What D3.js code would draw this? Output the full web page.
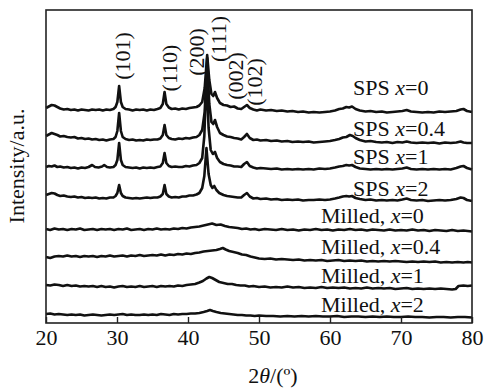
<!DOCTYPE html>
<html>
<head>
<meta charset="utf-8">
<script src="https://cdn.jsdelivr.net/npm/d3@7"></script>
<style>
  html, body { margin: 0; padding: 0; background: #fff; }
  svg text { font-family: "Liberation Serif", "Times New Roman", serif; fill: #111; }
</style>
</head>
<body>
<div id="chart"></div>
<script>
/* XRD patterns, intensity given in a.u. above each trace's own baseline */
const sampleNames = ['SPS x=0', 'SPS x=0.4', 'SPS x=1', 'SPS x=2',
  'Milled, x=0', 'Milled, x=0.4', 'Milled, x=1', 'Milled, x=2'];
const labelPrefix = ['SPS ', 'SPS ', 'SPS ', 'SPS ', 'Milled, ', 'Milled, ', 'Milled, ', 'Milled, '];
const labelValue = ['0', '0.4', '1', '2', '0', '0.4', '1', '2'];
const offsets = [213, 183, 155, 125, 93, 65, 36, 7];

const peakLabels = ['(101)', '(110)', '(200)', '(111)', '(002)', '(102)'];
const peakLabelPos = [30.8, 37.3, 41.2, 44.2, 46.6, 49.4];
const peakLabelLevel = [267, 255, 271, 284, 247, 241];

const xTicks = [20, 30, 40, 50, 60, 70, 80];

const sps0 = [[20,2],[20.4,3.5],[20.8,5],[21.2,4.5],[21.6,3],[22,1.5],[22.5,0.5],[23,1],[23.5,0],[24,0.5],[24.5,-0.5],[25,0.5],[25.5,0],[26,-0.5],[26.5,0.5],[27,0],[27.5,0.5],[28,-0.5],[28.5,0.5],[29,0],[29.5,1],[29.8,3],[30.05,8],[30.3,24],[30.55,8],[30.8,3],[31.2,1],[31.7,0.5],[32.2,-0.5],[32.7,0.5],[33.2,0],[33.7,0.5],[34.2,-0.5],[34.7,0.5],[35.2,0],[35.7,1],[36.1,2],[36.45,6],[36.7,18],[36.95,6],[37.3,2.5],[37.7,1],[38.2,1.5],[38.7,0.5],[39.2,1.5],[39.7,1],[40.2,2],[40.7,2.5],[41.2,3],[41.6,4.5],[42.0,8],[42.35,22],[42.7,55],[43.0,30],[43.3,16],[43.55,14],[43.8,18],[44.1,12],[44.5,7],[45,5],[45.5,4.5],[46,3],[46.5,3.5],[47,1.5],[47.5,1],[47.9,3],[48.3,5],[48.7,2],[49.2,0.5],[49.7,-0.5],[50.2,0.5],[51,-0.5],[51.7,0],[52.5,-1],[53.2,-0.5],[54,-1.5],[54.7,-1],[55.5,-2],[56.2,-1.5],[57,-2.5],[57.7,-2],[58.5,-2.5],[59.3,-2],[60,-1.5],[60.7,-0.5],[61.3,1],[61.8,1.5],[62.3,3],[62.7,2.5],[63.1,3.5],[63.6,1],[64.2,-0.5],[65,-1.5],[65.7,-1],[66.5,-2],[67.3,-1.5],[68,-2.5],[68.8,-2],[69.5,-1.5],[70.2,-1],[70.8,0],[71.4,-1.5],[72.2,-2],[73,-2.5],[73.8,-2],[74.6,-2.5],[75.4,-1.5],[76.2,-2],[77,-1.5],[77.8,-1],[78.4,0.5],[78.8,1],[79.3,-1],[80,-2]];

const sps04 = [[20,4],[20.4,5.5],[20.8,7],[21.2,6],[21.6,5],[22,3.5],[22.5,4],[23,3],[23.5,2.5],[24,3],[24.5,1.5],[25,2],[25.5,1],[26,1.5],[26.5,0.5],[27,1],[27.5,0],[28,0.5],[28.5,-0.5],[29,0.5],[29.5,1],[29.8,3],[30.05,9],[30.3,27],[30.55,9],[30.8,3],[31.2,1],[31.7,0],[32.2,0.5],[32.7,-0.5],[33.2,0],[33.7,-0.5],[34.2,0.5],[34.7,0],[35.2,0.5],[35.7,0.5],[36.1,1.5],[36.45,5],[36.7,15],[36.95,5],[37.3,2],[37.7,1],[38.2,0.5],[38.7,1.5],[39.2,1],[39.7,2],[40.2,1.5],[40.7,2.5],[41.2,3],[41.6,5],[42.0,10],[42.35,28],[42.7,82],[43.0,36],[43.3,18],[43.55,16],[43.8,20],[44.1,13],[44.5,7],[45,5],[45.5,3.5],[46,3],[46.5,2],[47,1.5],[47.5,0.5],[47.9,3],[48.3,6],[48.7,2],[49.2,0],[49.7,0.5],[50.2,-0.5],[51,0],[51.7,-1],[52.5,-0.5],[53.2,-1.5],[54,-1],[54.7,-2],[55.5,-1.5],[56.2,-2],[57,-1.5],[57.7,-2.5],[58.5,-2],[59.3,-1.5],[60,-1],[60.7,0],[61.3,1],[61.8,2.5],[62.3,3],[62.8,5],[63.2,4],[63.6,2],[64.2,0],[65,-1.5],[65.7,-1],[66.5,-2],[67.3,-2.5],[68,-2],[68.8,-3],[69.5,-2],[70.2,-2.5],[70.8,-1.5],[71.4,-2.5],[72.2,-3],[73,-2.5],[73.8,-3],[74.6,-2.5],[75.4,-3.5],[76.2,-2.5],[77,-3],[77.8,-2.5],[78.4,-1.5],[78.8,-2.5],[79.3,-3],[80,-3]];

const sps1 = [[20,1],[20.4,2],[20.8,1.5],[21.2,2.5],[21.6,1],[22,1.5],[22.5,0.5],[23,1],[23.5,0],[24,0.5],[24.5,-0.5],[25,0.5],[25.5,0],[26,1],[26.5,3],[26.9,1],[27.4,0.5],[27.9,1.5],[28.2,3],[28.6,1],[29,0.5],[29.5,1],[29.8,3],[30.05,8],[30.3,25],[30.55,8],[30.8,3],[31.2,1],[31.7,0.5],[32.2,0],[32.7,0.5],[33.2,-0.5],[33.7,0.5],[34.2,0],[34.7,0.5],[35.2,0],[35.7,1],[36.1,1.5],[36.45,5],[36.7,15],[36.95,5],[37.3,2],[37.7,1],[38.2,1.5],[38.7,1],[39.2,1],[39.7,2],[40.2,1.5],[40.7,2.5],[41.2,3],[41.6,5],[42.0,10],[42.3,32],[42.6,93],[42.9,40],[43.2,18],[43.5,14],[43.8,16],[44.1,10],[44.5,6],[45,4],[45.5,3],[46,2.5],[46.5,1.5],[47,1.5],[47.5,1],[47.9,4],[48.3,6],[48.7,2],[49.2,0.5],[49.7,-0.5],[50.2,0],[51,-0.5],[51.7,-1],[52.5,-0.5],[53.2,-1.5],[54,-1],[54.7,-1.5],[55.5,-1],[56.2,-1.5],[57,-1],[57.7,-1.5],[58.5,-0.5],[59.3,-1],[60,-0.5],[60.7,0.5],[61.3,1.5],[61.8,2],[62.3,3],[62.7,2.5],[63.1,3],[63.6,1],[64.2,-0.5],[65,-1],[65.7,-1.5],[66.5,-1],[67.3,-1.5],[68,-1],[68.8,-1.5],[69.5,-1],[70.2,-0.5],[70.8,0.5],[71.4,-1],[72.2,-1.5],[73,-1],[73.8,-1.5],[74.6,-1],[75.4,-1.5],[76.2,-1],[77,-1.5],[77.8,0],[78.4,1.5],[78.8,2],[79.3,0],[80,-1.5]];

const sps2 = [[20,3],[20.4,4],[20.8,5],[21.2,4.5],[21.6,3],[22,2],[22.5,2.5],[23,1.5],[23.5,1],[24,1.5],[24.5,0.5],[25,1],[25.5,0],[26,0.5],[26.5,0],[27,0.5],[27.5,-0.5],[28,0],[28.5,-0.5],[29,0.5],[29.5,0.5],[29.8,2],[30.05,5],[30.3,13],[30.55,5],[30.8,2],[31.2,0.5],[31.7,0],[32.2,-0.5],[32.7,0],[33.2,-0.5],[33.7,0],[34.2,0.5],[34.7,0],[35.2,0.5],[35.7,0.5],[36.1,1.5],[36.45,4],[36.7,13],[36.95,4],[37.3,1.5],[37.7,0.5],[38.2,1],[38.7,0.5],[39.2,1.5],[39.7,1.5],[40.2,2.5],[40.7,2.5],[41.2,3.5],[41.6,5],[42.0,10],[42.3,22],[42.6,50],[42.9,24],[43.2,13],[43.45,10],[43.7,12],[44.0,8],[44.4,5],[45,3],[45.5,2],[46,1.5],[46.5,1],[47,0.5],[47.5,0.5],[47.9,3],[48.3,5],[48.7,1.5],[49.2,-0.5],[49.7,0],[50.2,-1],[51,-0.5],[51.7,-1.5],[52.5,-1],[53.2,-2],[54,-1.5],[54.7,-2],[55.5,-1.5],[56.2,-2.5],[57,-2],[57.7,-2],[58.5,-1.5],[59.3,-2],[60,-1.5],[60.7,-0.5],[61.3,0.5],[61.8,1.5],[62.3,2],[62.7,1.5],[63.1,2],[63.6,0],[64.2,-1],[65,-2],[65.7,-1.5],[66.5,-2.5],[67.3,-2],[68,-2.5],[68.8,-2],[69.5,-2.5],[70.2,-1.5],[70.8,-0.5],[71.4,-2],[72.2,-2.5],[73,-2],[73.8,-3],[74.6,-2.5],[75.4,-2],[76.2,-2.5],[77,-2],[77.8,-1],[78.4,0.5],[78.8,0],[79.3,-2],[80,-3]];

const milled0 = [[20,1],[20.6,0],[21.2,1.5],[21.8,0.5],[22.4,1],[23,0],[23.6,1],[24.2,0.5],[24.8,1.5],[25.4,0],[26,0.5],[26.6,1],[27.2,0],[27.8,1],[28.4,0.5],[29,1],[29.6,0],[30.2,1],[30.8,0.5],[31.4,1.5],[32,0],[32.6,0.5],[33.2,1],[33.8,0],[34.4,1],[35,0.5],[35.6,1.5],[36.2,0.5],[36.8,1],[37.4,0.5],[38,1.5],[38.6,1],[39.2,2],[39.8,1.5],[40.4,2.5],[41,3],[41.6,3.5],[42.2,4.5],[42.8,5.5],[43.4,6.5],[44,5],[44.6,5.5],[45.2,4],[45.8,3],[46.4,2.5],[47,2],[47.6,1],[48.2,1.5],[48.8,0.5],[49.4,1],[50,0],[50.8,1],[51.6,0.5],[52.4,0],[53.2,1],[54,0],[54.8,0.5],[55.6,-0.5],[56.4,0.5],[57.2,0],[58,1],[58.8,0],[59.6,0.5],[60.4,-0.5],[61.2,0.5],[62,0],[62.8,1],[63.6,0],[64.4,0.5],[65.2,-0.5],[66,0.5],[66.8,0],[67.6,-0.5],[68.4,0.5],[69.2,-0.5],[70,0],[70.8,-0.5],[71.6,0.5],[72.4,-0.5],[73.2,0],[74,-1],[74.8,0],[75.6,-0.5],[76.4,-1],[77.2,0],[78,-1],[78.8,-0.5],[79.4,-1],[80,-1.5]];

const milled04 = [[20,1],[20.6,0],[21.2,1.5],[21.8,2],[22.4,1.5],[23,2.5],[23.6,1.5],[24.2,2],[24.8,1],[25.4,2],[26,1.5],[26.6,2],[27.2,1],[27.8,2],[28.4,1.5],[29,2.5],[29.6,1.5],[30.2,2],[30.8,2.5],[31.4,1.5],[32,2.5],[32.6,2],[33.2,3],[33.8,2],[34.4,2.5],[35,3],[35.6,2.5],[36.2,3.5],[36.8,2.5],[37.4,3.5],[38,3],[38.6,4],[39.2,3.5],[39.8,4.5],[40.4,4],[41,5],[41.6,5.5],[42.2,6.5],[42.8,7],[43.4,7.5],[44,8],[44.5,9],[44.9,10],[45.3,8.5],[45.8,7],[46.4,6],[47,5],[47.6,3.5],[48.2,3],[48.8,1.5],[49.4,0.5],[50,-0.5],[50.8,-1],[51.6,-0.5],[52.4,-1.5],[53.2,-1],[54,-1.5],[54.8,-2],[55.6,-1.5],[56.4,-2.5],[57.2,-2],[58,-2.5],[58.8,-2],[59.6,-3],[60.4,-2.5],[61.2,-2],[62,-3],[62.8,-2.5],[63.6,-3],[64.4,-2.5],[65.2,-3.5],[66,-3],[66.8,-3.5],[67.6,-3],[68.4,-3.5],[69.2,-3],[70,-3.5],[70.8,-4],[71.6,-3.5],[72.4,-4],[73.2,-3.5],[74,-4],[74.8,-3.5],[75.6,-4.5],[76.4,-4],[77.2,-4.5],[78,-4],[78.8,-4.5],[79.4,-4],[80,-4.5]];

const milled1 = [[20,2],[20.6,1.5],[21.2,2.5],[21.8,2],[22.4,1],[23,2],[23.6,1],[24.2,1.5],[24.8,0.5],[25.4,1],[26,0.5],[26.6,1],[27.2,0],[27.8,1],[28.4,0],[29,0.5],[29.6,-0.5],[30.2,0.5],[30.8,1],[31.4,0],[32,0.5],[32.6,0],[33.2,1],[33.8,0],[34.4,0.5],[35,1],[35.6,0],[36.2,1],[36.8,0.5],[37.4,1],[38,0.5],[38.6,1.5],[39.2,1],[39.8,2],[40.4,2.5],[41,3],[41.6,4.5],[42.1,6],[42.6,8.5],[43.0,10],[43.4,9],[43.9,7],[44.4,5],[45,4],[45.6,3],[46.2,3],[46.8,2],[47.4,1.5],[48,1.5],[48.6,0.5],[49.2,1],[50,0],[50.8,0.5],[51.6,-0.5],[52.4,0],[53.2,-0.5],[54,0.5],[54.8,-0.5],[55.6,0],[56.4,-1],[57.2,-0.5],[58,-1],[58.8,0],[59.6,-1],[60.4,-0.5],[61.2,-1],[62,-0.5],[62.8,-1.5],[63.6,-1],[64.4,-1.5],[65.2,-0.5],[66,-1.5],[66.8,-1],[67.6,-1.5],[68.4,-1],[69.2,-2],[70,-1.5],[70.8,-1],[71.6,-2],[72.4,-1.5],[73.2,-2],[74,-1.5],[74.8,-2],[75.6,-1.5],[76.4,-2],[77.2,-2.5],[77.7,-2],[78.1,1],[78.8,1.5],[79.4,1],[80,1.5]];

const milled2 = [[20,2],[20.6,2.5],[21.2,1.5],[21.8,2],[22.4,1.5],[23,1],[23.6,1.5],[24.2,1],[24.8,1.5],[25.4,0.5],[26,1],[26.6,1.5],[27.2,1],[27.8,0.5],[28.4,1],[29,1.5],[29.6,1],[30.2,1.5],[30.8,2],[31.4,1],[32,1.5],[32.6,1],[33.2,1],[33.8,1.5],[34.4,1],[35,1.5],[35.6,1],[36.2,2],[36.8,1.5],[37.4,1],[38,2],[38.6,1.5],[39.2,2],[39.8,2],[40.4,2.5],[41,2.5],[41.6,3],[42.2,4],[42.7,5],[43.1,6],[43.5,5],[44,4],[44.6,3],[45.2,2.5],[45.8,2],[46.4,1.5],[47,1],[47.6,1],[48.2,0.5],[48.8,0.5],[49.4,0],[50,0.5],[51,0],[52,0],[53,-0.5],[54,0],[55,-0.5],[56,0],[57,-0.5],[58,0],[59,-0.5],[60,-0.5],[61,0],[62,-1],[63,-0.5],[64,-0.5],[65,-1],[66,-0.5],[67,-1],[68,-0.5],[69,-1],[70,-1],[71,-0.5],[72,-1],[73,-1],[74,-1.5],[75,-1],[76,-1],[77,-1.5],[78,-1],[79,-1],[80,-1.5]];

const patterns = [sps0, sps04, sps1, sps2, milled0, milled04, milled1, milled2];

/* chart settings */
const width = 486;
const height = 392;
const margins = {top: 10, right: 14, bottom: 69, left: 46};
const chartWidth = width - margins.left - margins.right;
const chartHeight = height - margins.top - margins.bottom;

const svg = d3.select('#chart').append('svg')
  .attr('width', width)
  .attr('height', height);

const chart = svg.append('g')
  .attr('class', 'chart-canvas')
  .attr('transform', `translate(${margins.left}, ${margins.top})`);

const xScale = d3.scaleLinear()
  .domain([20, 80])
  .range([0, chartWidth]);

const yScale = d3.scaleLinear()
  .domain([0, 313])
  .range([chartHeight, 0]);

/* traces, each lifted by its own offset */
const line = d3.line()
  .x(d => xScale(d[0]))
  .y(d => yScale(d[1]));

chart.selectAll('.trace')
  .data(patterns.map((p, i) => p.map(d => [d[0], d[1] + offsets[i]])))
  .enter()
  .append('path')
  .attr('class', 'trace')
  .attr('d', line)
  .attr('fill', 'none')
  .attr('stroke', '#111')
  .attr('stroke-width', 2.6)
  .attr('stroke-linejoin', 'round');

/* frame */
chart.append('rect')
  .attr('width', chartWidth)
  .attr('height', chartHeight)
  .attr('fill', 'none')
  .attr('stroke', '#222')
  .attr('stroke-width', 1.6);

/* bottom axis, ticks pointing inward */
const xAxis = chart.append('g')
  .attr('class', 'x-axis')
  .attr('transform', `translate(0, ${chartHeight})`)
  .call(d3.axisBottom(xScale).tickValues(xTicks).tickSizeInner(-6).tickSizeOuter(0).tickPadding(6));

xAxis.select('.domain').remove();
xAxis.selectAll('line').attr('stroke', '#222').attr('stroke-width', 1.4);
xAxis.selectAll('text')
  .style('font-size', '22px')
  .attr('fill', '#111');

/* sample labels */
const labelX = i => (i < 4 ? 307 : 275);
const labelY = [84.5, 126, 154, 186, 213, 244, 273, 302];

const labels = chart.selectAll('.sample-label')
  .data(sampleNames)
  .enter()
  .append('text')
  .attr('class', 'sample-label')
  .attr('x', (d, i) => labelX(i))
  .attr('y', (d, i) => labelY[i])
  .style('font-size', '22px');

labels.append('tspan').text((d, i) => labelPrefix[i]);
labels.append('tspan').style('font-style', 'italic').text('x');
labels.append('tspan').text((d, i) => '=' + labelValue[i]);

/* peak indices */
chart.selectAll('.peak-label')
  .data(peakLabels)
  .enter()
  .append('text')
  .attr('class', 'peak-label')
  .attr('transform', (d, i) => `translate(${xScale(peakLabelPos[i])}, ${yScale(peakLabelLevel[i])}) rotate(-90)`)
  .attr('text-anchor', 'middle')
  .attr('dy', '0.35em')
  .style('font-size', '22px')
  .text(d => d);

/* axis titles */
const xTitle = svg.append('text')
  .attr('x', 273)
  .attr('y', 383)
  .attr('text-anchor', 'middle')
  .style('font-size', '22px');
xTitle.append('tspan').text('2');
xTitle.append('tspan').style('font-style', 'italic').text('θ');
xTitle.append('tspan').text('/(º)');

svg.append('text')
  .attr('transform', 'translate(24, 166) rotate(-90)')
  .attr('text-anchor', 'middle')
  .style('font-size', '22px')
  .text('Intensity/a.u.');
</script>
</body>
</html>
